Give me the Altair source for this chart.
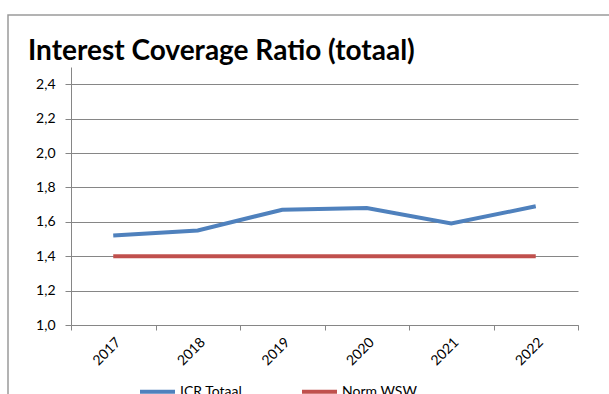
import altair as alt
import pandas as pd

years = ["2017", "2018", "2019", "2020", "2021", "2022"]
icr_totaal = [1.52, 1.55, 1.67, 1.68, 1.59, 1.69]
norm_wsw = [1.40, 1.40, 1.40, 1.40, 1.40, 1.40]
series_names = ["ICR Totaal", "Norm WSW"]
series_colors = ["#4F81BD", "#C0504D"]
y_ticks = [1.0, 1.2, 1.4, 1.6, 1.8, 2.0, 2.2, 2.4]
title_text = "Interest Coverage Ratio (totaal)"

rows = []
for y, a, b in zip(years, icr_totaal, norm_wsw):
    rows.append({"jaar": y, "serie": series_names[0], "waarde": a})
    rows.append({"jaar": y, "serie": series_names[1], "waarde": b})
df = pd.DataFrame(rows)

FONT = "Lato"

border = alt.Chart(alt.Data(values=[{}])).mark_rect(
    fill=None, stroke="#9a9a9a", strokeWidth=1.5
).encode(
    x=alt.value(-63), y=alt.value(-52), x2=alt.value(800), y2=alt.value(600)
)

title = alt.Chart(alt.Data(values=[{}])).mark_text(
    text=title_text, font=FONT, fontSize=28, fontWeight="bold",
    color="#000000", align="left", baseline="alphabetic"
).encode(x=alt.value(-43), y=alt.value(-7))

lines = alt.Chart(df).mark_line(strokeWidth=4).encode(
    x=alt.X(
        "jaar:O",
        bandPosition=0.5,
        scale=alt.Scale(type="band", paddingInner=0, paddingOuter=0),
        axis=alt.Axis(
            title=None, labelAngle=-45, tickBand="extent", grid=False,
            domainColor="#868686", tickColor="#868686", tickSize=5,
            labelFont=FONT, labelFontSize=14, labelColor="#000000",
            labelPadding=5,
        ),
    ),
    y=alt.Y(
        "waarde:Q",
        scale=alt.Scale(domain=[1.0, 2.5], nice=False, zero=False),
        axis=alt.Axis(
            title=None, values=y_ticks, format=".1f",
            labelExpr="replace(datum.label, '.', ',')",
            grid=True, gridColor="#868686", gridWidth=1,
            domainColor="#868686", tickColor="#868686", tickSize=6,
            labelFont=FONT, labelFontSize=14, labelColor="#000000",
            labelPadding=10,
        ),
    ),
    color=alt.Color(
        "serie:N",
        scale=alt.Scale(domain=series_names, range=series_colors),
        legend=alt.Legend(
            title=None, orient="none", legendX=67, legendY=305,
            direction="horizontal", symbolType="stroke", symbolStrokeWidth=4,
            symbolSize=1225, labelFont=FONT, labelFontSize=14,
            labelColor="#000000", columnPadding=51, labelOffset=3,
        ),
    ),
)

chart = alt.layer(border, title, lines).properties(
    width=507,
    height=258,
    padding={"left": 71, "top": 67, "right": 31, "bottom": 69},
    autosize=alt.AutoSizeParams(type="none"),
).configure_view(stroke=None)

chart.save("out.html", embed_options={"renderer": "svg", "actions": False})
